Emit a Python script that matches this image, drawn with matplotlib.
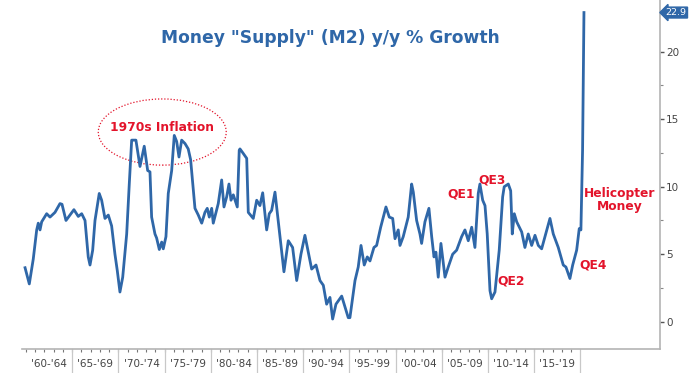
import matplotlib
matplotlib.use("Agg")
import matplotlib.pyplot as plt
import matplotlib.transforms as mtransforms
from matplotlib.patches import Ellipse

# ---- data (decimal year, M2 y/y % growth) ----
dates = [1959.9, 1960.36, 1960.79, 1961.16, 1961.33, 1961.52, 1961.70, 1962.24, 1962.60, 1963.14,
         1963.68, 1963.90, 1964.33, 1964.76, 1965.19, 1965.66, 1966.03, 1966.39, 1966.74, 1966.93,
         1967.22, 1967.47, 1967.93, 1968.19, 1968.55, 1968.91, 1969.27, 1969.63, 1969.88, 1970.17,
         1970.47, 1970.90, 1971.18, 1971.44, 1971.90, 1972.34, 1972.80, 1973.17, 1973.42, 1973.60,
         1973.96, 1974.14, 1974.43, 1974.69, 1974.86, 1975.15, 1975.40, 1975.77, 1976.05, 1976.31,
         1976.56, 1976.85, 1977.21, 1977.56, 1977.82, 1978.29, 1978.65, 1979.02, 1979.37, 1979.62,
         1979.84, 1980.10, 1980.27, 1980.81, 1981.18, 1981.43, 1981.72, 1981.97, 1982.19, 1982.44,
         1982.87, 1983.08, 1983.16, 1983.48, 1983.89, 1984.06, 1984.60, 1984.97, 1985.32, 1985.62,
         1986.05, 1986.33, 1986.59, 1986.95, 1987.49, 1987.92, 1988.39, 1988.86, 1989.30, 1989.76,
         1990.19, 1990.92, 1991.39, 1991.82, 1992.18, 1992.54, 1992.90, 1993.19, 1993.55, 1994.17,
         1994.88, 1995.06, 1995.61, 1995.96, 1996.26, 1996.61, 1996.94, 1997.23, 1997.66, 1997.95,
         1998.39, 1998.96, 1999.32, 1999.69, 1999.94, 2000.29, 2000.48, 2000.83, 2001.37, 2001.74,
         2001.92, 2002.28, 2002.64, 2002.82, 2003.18, 2003.61, 2003.91, 2004.16, 2004.37, 2004.62,
         2004.91, 2005.35, 2005.70, 2006.18, 2006.61, 2007.15, 2007.51, 2007.87, 2008.24, 2008.59,
         2008.95, 2009.13, 2009.43, 2009.68, 2009.92, 2010.22, 2010.40, 2010.76, 2011.22, 2011.59,
         2011.76, 2012.20, 2012.46, 2012.63, 2012.85, 2013.11, 2013.65, 2014.00, 2014.36, 2014.73,
         2015.09, 2015.45, 2015.81, 2016.17, 2016.71, 2017.07, 2017.61, 2018.15, 2018.44, 2018.87,
         2019.17, 2019.60, 2019.88, 2020.06, 2020.24, 2020.39]
m2_growth = [4.0, 2.8, 4.65, 6.8, 7.3, 6.8, 7.4, 8.0, 7.75, 8.1,
             8.75, 8.7, 7.5, 7.9, 8.3, 7.8, 8.0, 7.5, 4.8, 4.2,
             5.3, 7.5, 9.5, 9.0, 7.65, 7.9, 7.1, 5.0, 3.8, 2.2,
             3.3, 6.5, 10.2, 13.45, 13.45, 11.5, 13.0, 11.2, 11.1, 7.75,
             6.5, 6.2, 5.35, 5.9, 5.4, 6.3, 9.5, 11.2, 13.8, 13.35,
             12.2, 13.45, 13.2, 12.8, 12.0, 8.4, 7.9, 7.3, 8.1, 8.4,
             7.75, 8.4, 7.3, 8.75, 10.5, 8.5, 9.25, 10.2, 9.0, 9.4,
             8.5, 12.7, 12.8, 12.5, 12.1, 8.1, 7.65, 9.0, 8.6, 9.55,
             6.8, 8.0, 8.25, 9.6, 6.3, 3.7, 6.0, 5.5, 3.05, 5.0,
             6.4, 3.9, 4.2, 3.05, 2.7, 1.3, 1.8, 0.2, 1.3, 1.9,
             0.3, 0.3, 3.05, 4.05, 5.65, 4.2, 4.8, 4.5, 5.5, 5.65,
             7.0, 8.5, 7.75, 7.65, 6.15, 6.8, 5.65, 6.3, 7.75, 10.2,
             9.6, 7.5, 6.5, 5.8, 7.4, 8.4, 6.3, 4.8, 5.15, 3.3,
             5.8, 3.3, 4.05, 5.0, 5.3, 6.3, 6.8, 6.0, 7.0, 5.5,
             9.5, 10.2, 9.0, 8.6, 6.5, 2.3, 1.7, 2.2, 5.3, 9.25,
             10.0, 10.2, 9.7, 6.5, 8.0, 7.4, 6.65, 5.5, 6.5, 5.65,
             6.4, 5.65, 5.4, 6.3, 7.65, 6.5, 5.5, 4.2, 4.05, 3.2,
             4.2, 5.3, 6.9, 6.8, 12.7, 22.9]

period_starts = [1960, 1965, 1970, 1975, 1980, 1985, 1990, 1995, 2000, 2005, 2010, 2015]
period_labels = ["'60-'64", "'65-'69", "'70-'74", "'75-'79", "'80-'84", "'85-'89",
                 "'90-'94", "'95-'99", "'00-'04", "'05-'09", "'10-'14", "'15-'19"]
y_ticks = [0, 5, 10, 15, 20]
last_value_label = "22.9"

BLUE = "#2f67a8"
RED = "#e3142b"
GRAY = "#b4b4b4"

fig = plt.figure(figsize=(7.0, 3.73), dpi=100)
ax = fig.add_axes([22 / 700, 24 / 373, 638 / 700, 349 / 373])

ax.plot(dates, m2_growth, color=BLUE, lw=2.0, solid_joinstyle="round")

ax.set_xlim(1959.57, 2028.62)
ax.set_ylim(-2.02, 23.83)

for s in ("top", "left"):
    ax.spines[s].set_visible(False)
for s in ("right", "bottom"):
    ax.spines[s].set_color(GRAY)
    ax.spines[s].set_linewidth(1.2)

# y axis on right
ax.yaxis.tick_right()
ax.set_yticks(y_ticks)
ax.set_yticks([2.5, 7.5, 12.5, 17.5], minor=True)
ax.tick_params(axis="y", which="major", length=3, width=1, color="#555555",
               labelsize=7.5, labelcolor="#444444", pad=1.5, direction="out")
ax.tick_params(axis="y", which="minor", length=2, width=0.8, color="#888888", direction="out")

# x axis: period labels centered, yearly minor ticks
centers = [p + 2.5 for p in period_starts]
ax.set_xticks(centers)
ax.set_xticklabels(period_labels)
ax.set_xticks(list(range(1960, 2020)), minor=True)
ax.tick_params(axis="x", which="major", length=0, labelsize=7.5, labelcolor="#444444", pad=7)
ax.tick_params(axis="x", which="minor", length=2, width=0.8, color="#777777", direction="out")

trans = mtransforms.blended_transform_factory(ax.transData, ax.transAxes)
for p in period_starts[1:] + [2020]:
    ax.plot([p, p], [0, -24 / 349], transform=trans, color="#c8c8c8", lw=0.9, clip_on=False)

# title
fig.text(330 / 700, 1 - 38 / 373, 'Money "Supply" (M2) y/y % Growth', ha="center", va="center",
         fontsize=12.3, fontweight="bold", color=BLUE)

# annotations
ell = Ellipse((1974.75, 14.05), width=13.85, height=4.9, fill=False, edgecolor=RED,
              linestyle=(0, (1, 1.5)), lw=0.9)
ax.add_patch(ell)
ax.text(1974.75, 14.4, "1970s Inflation", ha="center", va="center", fontsize=8.8,
        fontweight="bold", color=RED)
ax.text(2007.1, 9.45, "QE1", ha="center", va="center", fontsize=8.8, fontweight="bold", color=RED)
ax.text(2010.45, 10.5, "QE3", ha="center", va="center", fontsize=8.8, fontweight="bold", color=RED)
ax.text(2012.5, 3.0, "QE2", ha="center", va="center", fontsize=8.8, fontweight="bold", color=RED)
ax.text(2021.4, 4.2, "QE4", ha="center", va="center", fontsize=8.8, fontweight="bold", color=RED)
ax.text(2024.3, 9.0, "Helicopter\nMoney", ha="center", va="center", fontsize=8.8,
        fontweight="bold", color=RED, linespacing=1.0)

# last value tag on right axis
ax.annotate(last_value_label, xy=(1.0, m2_growth[-1]), xycoords=("axes fraction", "data"),
            xytext=(4, 0), textcoords="offset points", ha="left", va="center",
            fontsize=6.8, color="white",
            bbox=dict(boxstyle="larrow,pad=0.1", fc=BLUE, ec=BLUE))

fig.savefig("out.png", dpi=100)
